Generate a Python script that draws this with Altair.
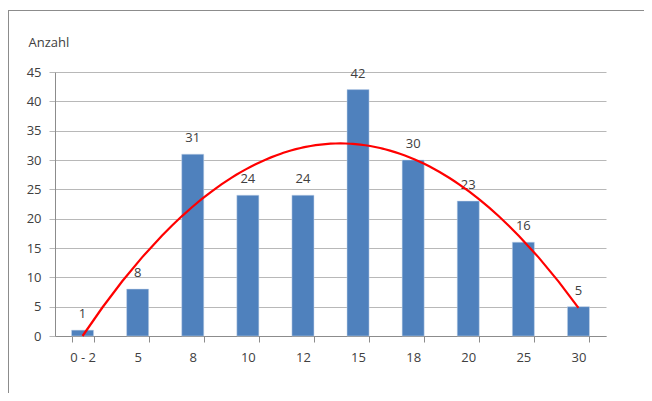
import altair as alt
import pandas as pd

categories = ["0 - 2", "5", "8", "10", "12", "15", "18", "20", "25", "30"]
counts = [1, 8, 31, 24, 24, 42, 30, 23, 16, 5]

df = pd.DataFrame({"cat": categories, "value": counts, "idx": list(range(len(categories)))})

FONT = "Open Sans"
TXT = "#404040"
GRID = "#b8b8b8"
AX = "#8c8c8c"
FS = 13

W, H = 551, 264

xband = alt.X("cat:N", sort=categories, title=None,
              scale=alt.Scale(paddingInner=0.6, paddingOuter=0.3),
              axis=alt.Axis(labelAngle=0, tickBand="extent", tickSize=6, tickColor=AX,
                            domainColor=AX, labelPadding=9, labelFontSize=FS,
                            labelColor=TXT, labelFont=FONT, grid=False))
yaxis = alt.Axis(values=list(range(0, 46, 5)), grid=True, gridColor=GRID,
                 tickColor=GRID, tickSize=6, domainColor=AX, labelPadding=8,
                 labelFontSize=FS, labelColor=TXT, labelFont=FONT, labelOverlap=False,
                 title="Anzahl", titleAngle=0, titleAlign="left",
                 titleBaseline="middle", titleX=-27, titleY=-30,
                 titleFontSize=FS, titleFontWeight="normal",
                 titleColor=TXT, titleFont=FONT)
yscale = alt.Scale(domain=[0, 45], nice=False)
yq = alt.Y("value:Q", scale=yscale, axis=yaxis)

base = alt.Chart(df)
bars = base.mark_bar(color="#4f81bd", stroke="#c6d6ea", strokeWidth=0.5).encode(x=xband, y=yq)
labels = base.mark_text(baseline="bottom", dy=-9, fontSize=FS, font=FONT, color=TXT).encode(
    x=alt.X("cat:N", sort=categories), y=yq, text="value:Q")

trend = base.transform_regression("idx", "value", method="poly", order=2, extent=[0, 9]).mark_line(
    color="#ff0000", strokeWidth=2.2).encode(
    x=alt.X("idx:Q", scale=alt.Scale(domain=[-0.5, 9.5], nice=False, zero=False), axis=None),
    y=yq)

frame_top = alt.Chart(df).mark_rule(color="#8c8c8c", strokeWidth=1).encode(
    x=alt.value(-47), x2=alt.value(W + 40), y=alt.value(-61.5))
frame_left = alt.Chart(df).mark_rule(color="#8c8c8c", strokeWidth=1).encode(
    x=alt.value(-46.5), y=alt.value(-62), y2=alt.value(H + 60))

bar_layer = alt.layer(bars, labels)
chart = alt.layer(bar_layer, trend, frame_top, frame_left).resolve_scale(x="independent").properties(
    width=W, height=H,
    autosize=alt.AutoSizeParams(type="none"),
    padding={"left": 47, "top": 64, "right": 38, "bottom": 57},
    background="white",
).configure_view(stroke=None)

chart.save("out.html", embed_options={"renderer": "svg", "actions": False})
